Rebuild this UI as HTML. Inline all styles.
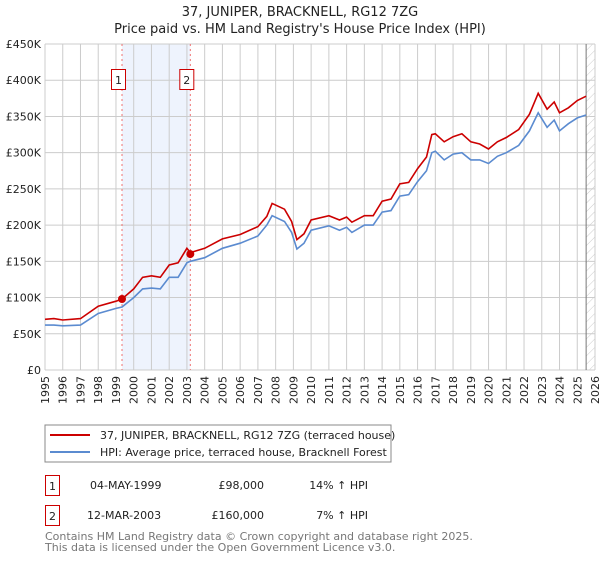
<!DOCTYPE html>
<html><head><meta charset="utf-8"><style>
body{margin:0;background:#fff;font-family:"DejaVu Sans","Liberation Sans",sans-serif;}
svg text{font-family:"DejaVu Sans","Liberation Sans",sans-serif;}
</style></head><body>
<svg id="c" width="600" height="560" xmlns="http://www.w3.org/2000/svg">
<defs><pattern id="hatch" width="6" height="6" patternUnits="userSpaceOnUse" patternTransform="rotate(45)"><line x1="0" y1="0" x2="0" y2="6" stroke="#ccc" stroke-width="1"/></pattern></defs>
<text x="300" y="16" text-anchor="middle" font-size="13" fill="#222">37, JUNIPER, BRACKNELL, RG12 7ZG</text>
<text x="300" y="33" text-anchor="middle" font-size="13" fill="#222">Price paid vs. HM Land Registry's House Price Index (HPI)</text>
<g id="grid"></g><g id="marks"></g>
<rect x="45" y="425" width="346" height="37" fill="#fff" stroke="#888"/>
<line x1="50" y1="435" x2="90" y2="435" stroke="#cc0000" stroke-width="2"/>
<text x="100" y="439" font-size="11" fill="#222">37, JUNIPER, BRACKNELL, RG12 7ZG (terraced house)</text>
<line x1="50" y1="452" x2="90" y2="452" stroke="#5b8bd0" stroke-width="2"/>
<text x="100" y="456" font-size="11" fill="#222">HPI: Average price, terraced house, Bracknell Forest</text>
<g>
<rect x="45.5" y="475.5" width="14" height="20" fill="#fff" stroke="#cc0000"/><text x="52.5" y="490" text-anchor="middle" font-size="11" fill="#222">1</text>
<text x="90" y="489" font-size="11" fill="#222">04-MAY-1999</text>
<text x="264" y="489" text-anchor="end" font-size="11" fill="#222">£98,000</text>
<text x="368" y="489" text-anchor="end" font-size="11" fill="#222">14% ↑ HPI</text></g>
<g>
<rect x="45.5" y="505.5" width="14" height="20" fill="#fff" stroke="#cc0000"/><text x="52.5" y="520" text-anchor="middle" font-size="11" fill="#222">2</text>
<text x="87" y="519" font-size="11" fill="#222">12-MAR-2003</text>
<text x="264" y="519" text-anchor="end" font-size="11" fill="#222">£160,000</text>
<text x="368" y="519" text-anchor="end" font-size="11" fill="#222">7% ↑ HPI</text></g>
<text x="45" y="540" font-size="11" fill="#777">Contains HM Land Registry data © Crown copyright and database right 2025.</text>
<text x="45" y="551" font-size="11" fill="#777">This data is licensed under the Open Government Licence v3.0.</text>
</svg>
<script>
const years=[1995,1995.5,1996,1997,1998,1999,1999.34,2000,2000.5,2001,2001.5,2002,2002.5,2003,2003.19,2004,2005,2006,2007,2007.5,2007.8,2008.5,2008.9,2009.2,2009.6,2010,2011,2011.6,2012,2012.3,2013,2013.5,2014,2014.5,2015,2015.5,2016,2016.5,2016.8,2017,2017.5,2018,2018.5,2019,2019.5,2020,2020.5,2021,2021.7,2022.3,2022.8,2023.3,2023.7,2024,2024.5,2025,2025.5];
const hpiValues=[62,62,61,62,78,85,87,100,112,113,112,128,128,148,150,155,168,175,185,200,213,205,190,167,175,193,199,193,197,190,200,200,218,220,240,242,260,275,300,302,290,298,300,290,290,285,295,300,310,330,355,335,345,330,340,348,352];
const priceValues=[70,71,69,71,88,95,98,112,128,130,128,145,148,168,162,168,181,187,198,212,230,222,205,180,188,207,213,207,211,204,213,213,233,236,257,259,278,294,325,326,315,322,326,315,312,305,315,321,332,353,382,360,370,355,362,372,378];
const saleYears=[1999.34,2003.19];
const salePrices=[98,160];
const yTicks=[0,50,100,150,200,250,300,350,400,450];
const yTickLabels=["£0","£50K","£100K","£150K","£200K","£250K","£300K","£350K","£400K","£450K"];
const xTicks=[1995,1996,1997,1998,1999,2000,2001,2002,2003,2004,2005,2006,2007,2008,2009,2010,2011,2012,2013,2014,2015,2016,2017,2018,2019,2020,2021,2022,2023,2024,2025,2026];
const X0=45,X1=595,Y0=370,Y1=44;
const xs=y=>X0+(y-1995)/31*(X1-X0);
const ys=v=>Y0-v/450*(Y0-Y1);
const NS="http://www.w3.org/2000/svg";
const g=document.getElementById('grid'),m=document.getElementById('marks');
function el(p,t,a){const e=document.createElementNS(NS,t);for(const k in a)e.setAttribute(k,a[k]);p.appendChild(e);return e;}
const sh=el(g,'rect',{x:xs(saleYears[0]),y:Y1,width:xs(saleYears[1])-xs(saleYears[0]),height:Y0-Y1,fill:'#eef3fd'});


const ht=el(g,'rect',{x:xs(2025.5),y:Y1,width:X1-xs(2025.5),height:Y0-Y1,fill:'url(#hatch)'});


yTicks.forEach((v,i)=>{
 el(g,'line',{x1:X0,x2:X1,y1:ys(v),y2:ys(v),stroke:'#ccc'});
 const t=el(g,'text',{x:X0-4,y:ys(v)+4,'text-anchor':'end','font-size':11,fill:'#222'});t.textContent=yTickLabels[i];
 
 
});
xTicks.forEach(v=>{
 el(g,'line',{x1:xs(v),x2:xs(v),y1:Y1,y2:Y0,stroke:'#ccc'});
 const t=el(g,'text',{x:0,y:0,'text-anchor':'end','font-size':11,fill:'#222',transform:`translate(${xs(v)+4},${Y0+6}) rotate(-90)`});t.textContent=v;
 
 
});
el(g,'line',{x1:xs(2025.5),x2:xs(2025.5),y1:Y1,y2:Y0,stroke:'#777'});
saleYears.forEach((y,i)=>{
 const l=el(g,'line',{x1:xs(y),x2:xs(y),y1:Y1,y2:Y0,stroke:'#f07070','stroke-dasharray':'2,3'});
 
 
 const b=el(g,'rect',{x:xs(y)-10.5,y:69.5,width:14,height:20,fill:'#fff',stroke:'#cc0000'});
 
 
 const t=el(g,'text',{x:xs(y)-3.5,y:84,'text-anchor':'middle','font-size':11,fill:'#222'});t.textContent=i+1;
});
const path=vals=>years.map((y,i)=>(i?'L':'M')+xs(y).toFixed(1)+','+ys(vals[i]).toFixed(1)).join('');
const hp=el(m,'path',{d:path(hpiValues),fill:'none',stroke:'#5b8bd0','stroke-width':1.6});


const pp=el(m,'path',{d:path(priceValues),fill:'none',stroke:'#cc0000','stroke-width':1.6});


saleYears.forEach((y,i)=>{
 const c=el(m,'circle',{cx:xs(y),cy:ys(salePrices[i]),r:4,fill:'#cc0000'});
 
 
});
</script>
</body></html>
